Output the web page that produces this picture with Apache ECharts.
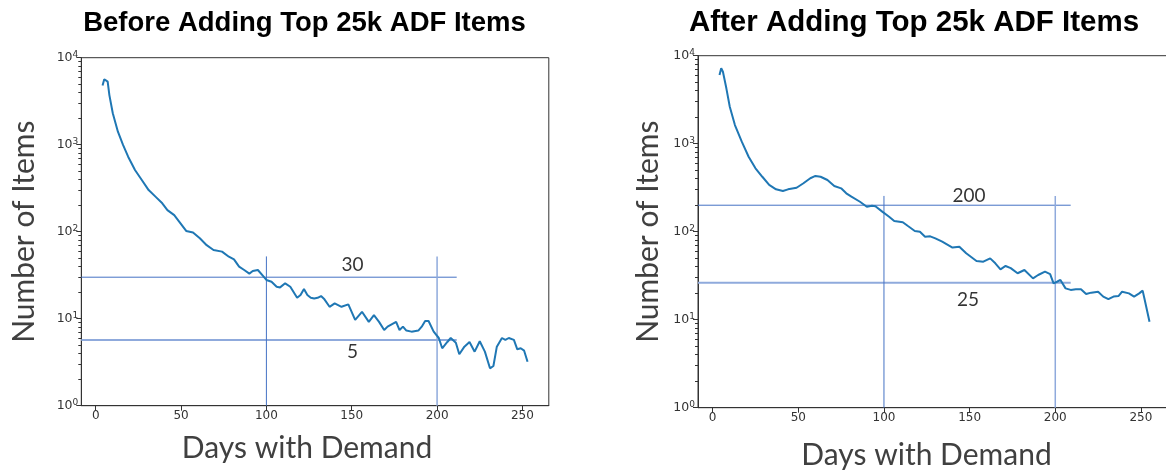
<!DOCTYPE html>
<html><head><meta charset="utf-8">
<script src="https://cdn.jsdelivr.net/npm/echarts@6/dist/echarts.min.js"></script>
<style>html,body{margin:0;padding:0;background:#fff}#c{width:1166px;height:470px}</style>
</head><body><div id="c"></div>
<script>
// ---- text ----
const chartTitles = ['Before Adding Top 25k ADF Items', 'After Adding Top 25k ADF Items'];
const xAxisName = 'Days with Demand';
const yAxisName = 'Number of Items';
const xTicks = [0, 50, 100, 150, 200, 250];
const yTickExponents = [0, 1, 2, 3, 4];

// ---- series: before ----
const beforeDays = [4,5,7,8,10,13,16,19,23,27,31,35,39,42,46,49,53,57,61,65,69,74,78,81,84,87,88,90,92,95,98,100,103,106,108,111,114,118,120,122,124,126,128,130,132,134,137,140,144,148,152,156,160,163,166,169,171,176,178,180,182,185,189,191,193,195,198,201,203,206,208,211,213,216,219,222,225,228,231,233,235,238,240,242,245,247,249,251,253];
const beforeItems = [4800,5650,5300,3720,2300,1410,993,728,512,393,301,253,212,177,155,130,102,98,84,70,61.6,59,51.6,48,39.6,36.3,38,33,35.3,36.3,31,27.9,26.6,23.3,22.9,25.5,23.3,17.4,18.7,22,18.7,17.4,17.1,17.4,18.2,16.7,13.7,15,13.7,14.6,9.7,12,9.2,11,9.2,7.4,8.1,9.2,7.4,8.1,7.3,7.1,7.3,8.1,9.4,9.4,7.1,6.0,4.57,5.4,6.0,5.3,3.9,4.77,5.4,4.18,5.5,4.18,2.69,2.86,4.77,6.0,5.7,6.0,5.7,4.45,4.57,4.29,3.2];

// ---- series: after ----
const afterDays = [4,5,6,8,10,13,17,21,25,29,33,37,41,44,49,53,57,60,63,67,71,75,78,81,86,90,93,95,99,103,106,111,114,118,121,124,127,130,134,140,144,148,154,158,162,165,168,171,174,178,182,187,190,194,197,199,201,203,206,209,212,215,218,221,225,228,231,234,237,239,243,246,249,251,252,255];
const afterItems = [6040,7190,6580,4260,2630,1630,1054,711,525,421,340,303,290,303,316,355,405,430,421,387,331,311,273,250,219,192,197,195,169,148,132,128,116,102,100,87.7,88.6,84,77,66,67.6,56.9,46.5,45.6,49.8,43.7,37.4,40.8,38.6,33.7,36.7,29.5,32.2,35.1,33,25.9,27,28.3,22.7,21.8,22.2,22.2,19.6,20.3,20.8,18.3,17.1,18.3,18.6,20.8,19.9,18.3,19.9,21.4,17.5,9.5];

// ---- axis ranges ----
const beforeXRange = [-8.45, 265.45];
const afterXRange = [-8.55, 267.55];
const yRange = [1, 10000];

// ---- annotations ----
const beforeLevels = [30, 5.7];
const beforeLevelEnd = 211.5;
const beforeDayMarks = [100, 200];
const beforeDayMarkTop = 52;
const beforeLabelText = ['30', '5'];
const beforeLabelDay = [150.5, 150.5];
const beforeLabelValue = [41.4, 4.18];

const afterLevels = [200, 26.3];
const afterLevelEnd = 209;
const afterDayMarks = [100, 200];
const afterDayMarkTop = 255;
const afterLabelText = ['200', '25'];
const afterLabelDay = [149.6, 149];
const afterLabelValue = [256.5, 16.7];

// ---- build ----
const minorExp = [];
for (let e = 0; e < 4; e++) for (let k = 2; k <= 9; k++) minorExp.push(e + Math.log10(k));

const AX = '#333';
const DARK = '#4472C4', LIGHT = '#8FAADC';
const nameFont = {fontFamily: 'Lato', fontSize: 30, color: '#404040'};

const panels = [
  {grid: {left: 81.3, top: 57.7, width: 467.5, height: 348}, xr: beforeXRange,
   days: beforeDays, items: beforeItems, levels: beforeLevels, levelEnd: beforeLevelEnd,
   levelStyle: [{color: DARK, width: 1}, {color: LIGHT, width: 2}],
   marks: beforeDayMarks, markTop: beforeDayMarkTop,
   markStyle: [{color: DARK, width: 1}, {color: LIGHT, width: 1.5}],
   lt: beforeLabelText, ld: beforeLabelDay, lv: beforeLabelValue,
   xGap: 28, xPad: [0, 16, 0, 0], yGap: 42, title: chartTitles[0], tx: 304.5, tfs: 27.5},
  {grid: {left: 698, top: 55.7, width: 473, height: 352}, xr: afterXRange,
   days: afterDays, items: afterItems, levels: afterLevels, levelEnd: afterLevelEnd,
   levelStyle: [{color: DARK, width: 1}, {color: LIGHT, width: 2}],
   marks: afterDayMarks, markTop: afterDayMarkTop,
   markStyle: [{color: DARK, width: 1}, {color: LIGHT, width: 1.5}],
   lt: afterLabelText, ld: afterLabelDay, lv: afterLabelValue,
   xGap: 33, xPad: [0, 16, 0, 0], yGap: 35, title: chartTitles[1], tx: 914, tfs: 29.5}
];

const option = {animation: false, grid: [], xAxis: [], yAxis: [], series: [], graphic: []};

panels.forEach((p, i) => {
  option.grid.push(Object.assign({show: true, borderColor: AX, borderWidth: 1, containLabel: false, outerBoundsMode: 'none'}, p.grid));
  option.xAxis.push({
    gridIndex: i, type: 'value', min: p.xr[0], max: p.xr[1],
    name: xAxisName, nameLocation: 'middle', nameGap: p.xGap,
    nameTextStyle: Object.assign({padding: p.xPad}, nameFont),
    axisLine: {show: true, onZero: false, lineStyle: {color: AX, width: 1}},
    axisTick: {show: true, customValues: xTicks, length: 5, lineStyle: {color: AX}},
    axisLabel: {customValues: xTicks, margin: 4, fontFamily: 'DejaVu Sans', fontSize: 12, color: '#333'},
    splitLine: {show: false}
  });
  option.yAxis.push({
    gridIndex: i, type: 'log', logBase: 10, min: yRange[0], max: yRange[1], position: 'left',
    name: yAxisName, nameLocation: 'middle', nameRotate: 90, nameGap: p.yGap,
    nameTextStyle: nameFont,
    axisLine: {show: true, onZero: false, lineStyle: {color: AX, width: 1}},
    axisTick: {show: true, length: 5, lineStyle: {color: AX}},
    axisLabel: {
      margin: 3,
      formatter: v => '{b|10}{s|' + yTickExponents[Math.round(Math.log10(v))] + '}',
      rich: {
        b: {fontFamily: 'DejaVu Sans', fontSize: 12.5, color: '#333', lineHeight: 15},
        s: {fontFamily: 'DejaVu Sans', fontSize: 9, color: '#333', verticalAlign: 'top', lineHeight: 10}
      }
    },
    splitLine: {show: false}
  });
  option.yAxis.push({
    gridIndex: i, type: 'value', min: 0, max: 4, position: 'left', offset: 0,
    axisLine: {show: false, onZero: false},
    axisTick: {show: true, customValues: minorExp, length: 3, lineStyle: {color: AX}},
    axisLabel: {show: false}, splitLine: {show: false}
  });
  const ya = i * 2;
  option.series.push({
    type: 'line', xAxisIndex: i, yAxisIndex: ya, showSymbol: false, symbol: 'none', z: 5,
    data: p.days.map((d, k) => [d, p.items[k]]),
    lineStyle: {color: '#1f77b4', width: 2}
  });
  p.levels.forEach((lv, k) => option.series.push({
    type: 'line', xAxisIndex: i, yAxisIndex: ya, symbol: 'none', silent: true, z: 3,
    data: [[p.xr[0], lv], [p.levelEnd, lv]], lineStyle: p.levelStyle[k]
  }));
  p.marks.forEach((m, k) => option.series.push({
    type: 'line', xAxisIndex: i, yAxisIndex: ya, symbol: 'none', silent: true, z: 3,
    data: [[m, yRange[0]], [m, p.markTop]], lineStyle: p.markStyle[k]
  }));
  option.series.push({
    type: 'scatter', xAxisIndex: i, yAxisIndex: ya, symbolSize: 1, silent: true, z: 6,
    itemStyle: {color: 'rgba(0,0,0,0)'},
    data: p.lt.map((t, k) => ({name: t, value: [p.ld[k], p.lv[k]]})),
    label: {show: true, position: 'inside', formatter: '{b}', fontFamily: 'Lato', fontSize: 19, color: '#000'}
  });
  option.graphic.push({
    type: 'text', x: p.tx, y: 23, silent: true,
    style: {text: p.title, textAlign: 'center', textVerticalAlign: 'middle',
            fontFamily: 'Liberation Sans', fontWeight: 'bold', fontSize: p.tfs, fill: '#000'}
  });
});

const chart = echarts.init(document.getElementById('c'), null, {renderer: 'canvas'});
chart.setOption(option);
</script></body></html>
